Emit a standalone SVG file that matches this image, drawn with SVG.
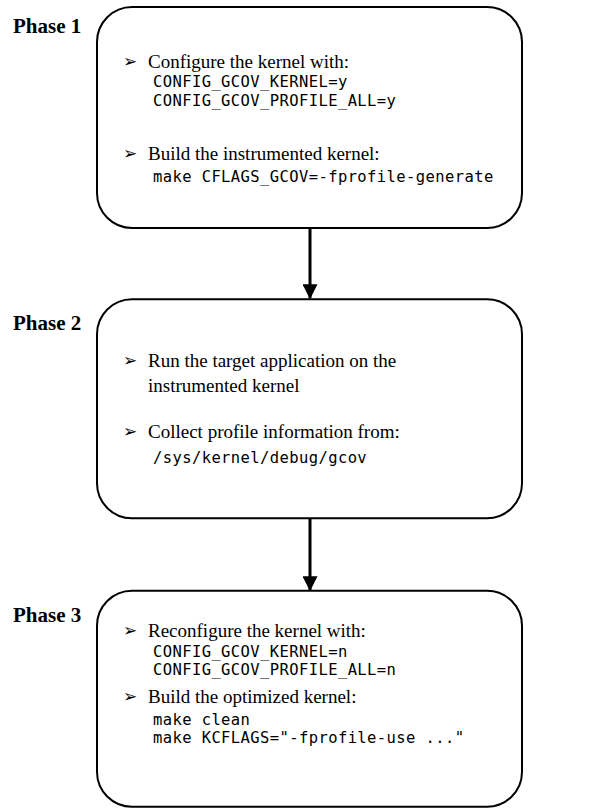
<svg xmlns="http://www.w3.org/2000/svg" width="597" height="808" viewBox="0 0 597 808">
<defs>
<style>
.box{fill:#fff;stroke:#000;stroke-width:2}
.ph{font-family:"Liberation Serif","DejaVu Serif",serif;font-weight:bold;font-size:21px;fill:#000}
.t{font-family:"Liberation Serif","DejaVu Serif",serif;font-size:19px;fill:#000}
.m{font-family:"DejaVu Sans Mono","Liberation Mono",monospace;font-size:15.5px;letter-spacing:0.4px;fill:#000}
.b{font-family:"DejaVu Sans",sans-serif;font-size:17px;fill:#000}
.c{stroke:#000;stroke-width:3;fill:none}
</style>
<marker id="ah" markerWidth="5" markerHeight="5" refX="4.6" refY="2.5" orient="auto" markerUnits="strokeWidth">
<path d="M0,0 L5,2.5 L0,5 z" fill="#000"/>
</marker>
</defs>
<g id="connectors">
<line class="c" x1="310" y1="228" x2="310" y2="298" marker-end="url(#ah)"/>
<line class="c" x1="310" y1="518" x2="310" y2="590" marker-end="url(#ah)"/>
</g>
<g id="phase1">
<text class="ph" x="13" y="33">Phase 1</text>
<rect class="box" x="97" y="7" width="425" height="221" rx="35" ry="35"/>
<text class="b" x="123" y="67">➢</text>
<text class="t" x="148" y="68">Configure the kernel with:</text>
<text class="m" x="153" y="87.3">CONFIG_GCOV_KERNEL=y</text>
<text class="m" x="153" y="106">CONFIG_GCOV_PROFILE_ALL=y</text>
<text class="b" x="123" y="159">➢</text>
<text class="t" x="148" y="160">Build the instrumented kernel:</text>
<text class="m" x="153" y="181.7">make CFLAGS_GCOV=-fprofile-generate</text>
</g>
<g id="phase2">
<text class="ph" x="13" y="330">Phase 2</text>
<rect class="box" x="97" y="299.3" width="425" height="219" rx="35" ry="35"/>
<text class="b" x="123" y="365.7">➢</text>
<text class="t" x="148" y="366.7">Run the target application on the</text>
<text class="t" x="148" y="391.7">instrumented kernel</text>
<text class="b" x="123" y="437.3">➢</text>
<text class="t" x="148" y="438.3">Collect profile information from:</text>
<text class="m" x="153" y="463.3">/sys/kernel/debug/gcov</text>
</g>
<g id="phase3">
<text class="ph" x="13" y="621.7">Phase 3</text>
<rect class="box" x="97" y="590.7" width="425" height="216" rx="35" ry="35"/>
<text class="b" x="123" y="635.7">➢</text>
<text class="t" x="148" y="636.7">Reconfigure the kernel with:</text>
<text class="m" x="153" y="656.7">CONFIG_GCOV_KERNEL=n</text>
<text class="m" x="153" y="675">CONFIG_GCOV_PROFILE_ALL=n</text>
<text class="b" x="123" y="702.3">➢</text>
<text class="t" x="148" y="703.3">Build the optimized kernel:</text>
<text class="m" x="153" y="725">make clean</text>
<text class="m" x="153" y="743.3">make KCFLAGS="-fprofile-use ..."</text>
</g>
</svg>
